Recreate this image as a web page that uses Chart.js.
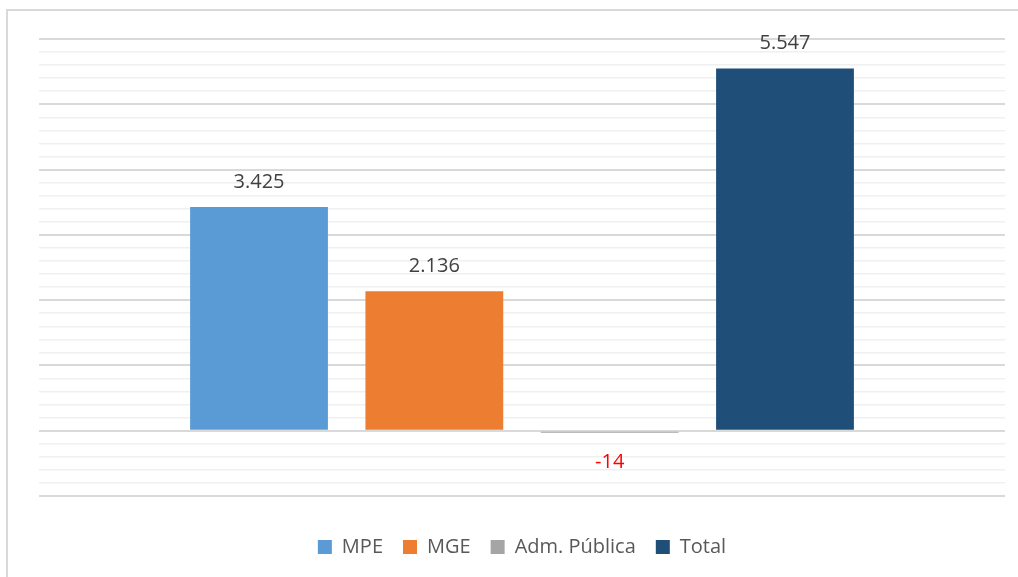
<!DOCTYPE html>
<html>
<head>
<meta charset="utf-8">
<script src="https://cdn.jsdelivr.net/npm/chart.js@4/dist/chart.umd.min.js"></script>
<style>
  body { margin: 0; background: #fff; }
  #frame {
    position: absolute; left: 6px; top: 9px;
    width: 1020px; height: 600px;
    border: 2px solid #d9d9d9;
  }
  #wrap { position: absolute; left: 0; top: 0; width: 1018px; height: 577px; }
</style>
</head>
<body>
<div id="frame"></div>
<div id="wrap"><canvas id="chart"></canvas></div>
<script>
const categories = [""];
const seriesNames = ["MPE", "MGE", "Adm. Pública", "Total"];
const seriesValues = [[3425], [2136], [-14], [5547]];
const seriesColors = ["#5b9bd5", "#ed7d31", "#a5a5a5", "#1f4e79"];

const fmt = v => v.toLocaleString("pt-BR");

const valueLabels = {
  id: "valueLabels",
  afterDatasetsDraw(chart) {
    const ctx = chart.ctx;
    ctx.save();
    ctx.font = "20px 'Open Sans'";
    ctx.textAlign = "center";
    ctx.textBaseline = "middle";
    chart.data.datasets.forEach((ds, i) => {
      const meta = chart.getDatasetMeta(i);
      meta.data.forEach((bar, j) => {
        const v = ds.data[j];
        if (v >= 0) {
          ctx.fillStyle = "#404040";
          ctx.fillText(fmt(v), bar.x, bar.y - 25);
        } else {
          ctx.fillStyle = "#ff0000";
          ctx.fillText(fmt(v), bar.x, bar.base + 31);
        }
      });
    });
    ctx.restore();
  }
};

new Chart(document.getElementById("chart"), {
  type: "bar",
  data: {
    labels: categories,
    datasets: seriesNames.map((name, i) => ({
      label: name,
      data: seriesValues[i],
      backgroundColor: seriesColors[i],
      categoryPercentage: 0.726,
      barPercentage: 0.786,
      minBarLength: 2
    }))
  },
  options: {
    responsive: true,
    maintainAspectRatio: false,
    animation: false,
    layout: { padding: { left: 39, right: 13, top: 39, bottom: 10 } },
    plugins: {
      tooltip: { enabled: false },
      legend: {
        position: "bottom",
        labels: {
          boxWidth: 14,
          boxHeight: 14,
          padding: 20,
          color: "#595959",
          font: { family: "'Open Sans'", size: 20 }
        }
      }
    },
    scales: {
      x: {
        display: true,
        grid: { display: false },
        border: { display: false },
        ticks: { display: false },
        afterFit: scale => { scale.height = 21; }
      },
      y: {
        min: -1000,
        max: 6000,
        border: { display: false },
        ticks: { display: false, stepSize: 200 },
        grid: {
          drawTicks: false,
          color: c => (c.tick.value % 1000 === 0 ? "#d9d9d9" : "#f0f0f0"),
          lineWidth: c => (c.tick.value % 1000 === 0 ? 2 : 1.5)
        }
      }
    }
  },
  plugins: [valueLabels]
});
</script>
</body>
</html>
